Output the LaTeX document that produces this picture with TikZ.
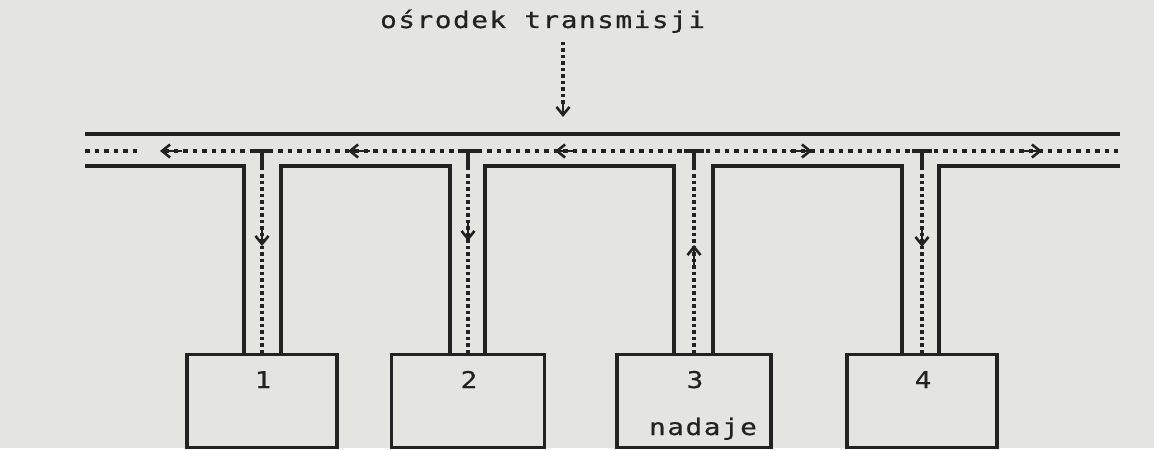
\documentclass[tikz,border=0pt]{standalone}
\usepackage{fontspec}
\newfontfamily\dotfont[FakeStretch=1.2,FakeBold=0.6,LetterSpace=7]{DejaVu Sans Mono}
\usetikzlibrary{arrows.meta}
\definecolor{paper}{RGB}{228,228,224}
\definecolor{ink}{RGB}{34,34,34}
\tikzset{
  wire/.style={draw=ink, line width=3.2pt},
  hsignal/.style={draw=ink, line width=3.2pt, dash pattern=on 4.5pt off 5pt},
  vsignal/.style={draw=ink, line width=3.2pt, dash pattern=on 3.5pt off 3pt},
  station/.style={draw=ink, line width=3.2pt, minimum height=93pt, inner sep=0pt, anchor=north},
  lbl/.style={font=\dotfont\fontsize{23}{23}\selectfont, text=ink, inner sep=0pt},
  tip/.style={draw=ink, line width=2.6pt, -{Straight Barb[length=8pt,width=13pt]}},
  tbar/.style={draw=ink, line width=3.6pt},
}
\begin{document}
\begin{tikzpicture}[x=1pt,y=-1pt]
  % sheet
  \fill[paper] (0,0) rectangle (1154,448);

  % title and its feed into the channel
  \node[lbl, anchor=base west] (title) at (380,28) {ośrodek transmisji};
  \coordinate (feedtop) at (563,42);
  \coordinate (feedend) at (563,117);
  \draw[vsignal] (feedtop) -- (563,106);
  \draw[tip] (563,102) -- (feedend);

  % stations
  \node[station, minimum width=150pt] (st1) at (262,353) {};
  \node[station, minimum width=153pt] (st2) at (468,353) {};
  \node[station, minimum width=154pt] (st3) at (694,353) {};
  \node[station, minimum width=150pt] (st4) at (922,353) {};
  \node[lbl, anchor=base] (n1) at ([xshift=1pt,yshift=-35pt]st1.north) {1};
  \node[lbl, anchor=base] (n2) at ([xshift=1pt,yshift=-35pt]st2.north) {2};
  \node[lbl, anchor=base] (n3) at ([xshift=1pt,yshift=-35pt]st3.north) {3};
  \node[lbl, anchor=base] (n4) at ([xshift=1pt,yshift=-35pt]st4.north) {4};
  \node[lbl, anchor=base] (tx) at ([xshift=9pt,yshift=-82pt]st3.north) {nadaje};

  % channel: upper wall
  \draw[wire] (85,134) -- (1120,134);
  % channel: lower wall, opened at each station
  \draw[wire] (85,166) -- (244,166) -- (244,0 |- st1.north);
  \draw[wire] (281,0 |- st1.north) -- (281,166) -- (450,166) -- (450,0 |- st2.north);
  \draw[wire] (485,0 |- st2.north) -- (485,166) -- (674,166) -- (674,0 |- st3.north);
  \draw[wire] (713,0 |- st3.north) -- (713,166) -- (902,166) -- (902,0 |- st4.north);
  \draw[wire] (939,0 |- st4.north) -- (939,166) -- (1120,166);

  % signal line along the channel
  \draw[hsignal] (85,151) -- (137,151);
  \draw[hsignal] (164,151) -- (1118,151);

  % taps (T) and signal drops to the stations
  \foreach \s in {st1,st2,st3,st4}{
    \draw[tbar] ([xshift=-10pt]\s.north |- 0,151) -- ([xshift=10pt]\s.north |- 0,151);
    \draw[tbar] (\s.north |- 0,151) -- (\s.north |- 0,170);
    \draw[vsignal] (\s.north |- 0,174) -- (\s.north);
  }

  % direction marks on the channel
  \draw[tip] (182,151) -- (160,151);
  \draw[tip] (370,151) -- (348,151);
  \draw[tip] (577,151) -- (555,151);
  \draw[tip] (790,151) -- (812,151);
  \draw[tip] (1020,151) -- (1042,151);

  % direction marks on the drops
  \draw[tip] (st1.north |- 0,226) -- (st1.north |- 0,246);
  \draw[tip] (st2.north |- 0,221) -- (st2.north |- 0,241);
  \draw[tip] (st3.north |- 0,265) -- (st3.north |- 0,245);
  \draw[tip] (st4.north |- 0,227) -- (st4.north |- 0,247);
\end{tikzpicture}
\end{document}
